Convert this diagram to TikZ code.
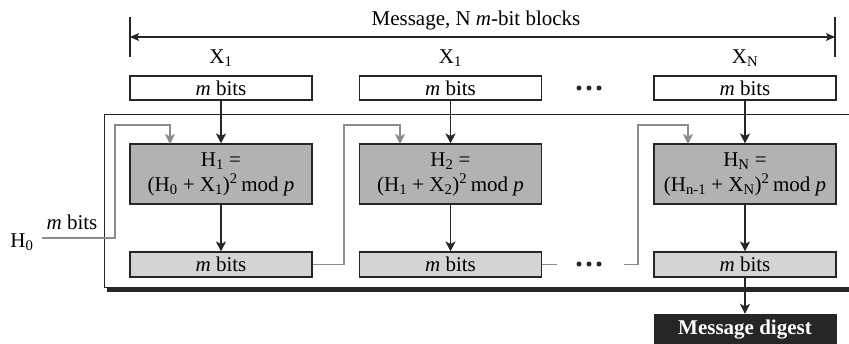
\documentclass[tikz,border=0pt]{standalone}
\usepackage{fontspec}
\setmainfont{Liberation Serif}
\usetikzlibrary{arrows.meta}
\definecolor{hfill}{RGB}{178,178,178}
\definecolor{bfill}{RGB}{212,212,212}
\definecolor{gline}{RGB}{140,140,140}
\definecolor{dline}{RGB}{38,38,38}
\begin{document}
\begin{tikzpicture}[x=1pt,y=-1pt,
  every node/.style={font=\fontsize{21}{25}\selectfont, inner sep=0pt},
  wbox/.style={draw=dline, line width=1.1pt, fill=white, minimum width=182pt, minimum height=24pt},
  hbox/.style={draw=dline, line width=1.1pt, fill=hfill, minimum width=182pt, minimum height=60pt, align=center},
  bbox/.style={draw=dline, line width=1.1pt, fill=bfill, minimum width=182pt, minimum height=25pt},
  dbox/.style={draw=dline, fill=dline, text=white, minimum width=182pt, minimum height=32pt,
    font=\fontsize{21}{25}\selectfont\bfseries},
  blk/.style={draw=dline, line width=1.4pt, -{Stealth[length=10pt,width=10pt,inset=2.5pt]}},
  gry/.style={draw=gline, line width=1.6pt, -{Stealth[length=10pt,width=10pt,inset=2.5pt]}},
  gln/.style={draw=gline, line width=1.6pt},
  dot/.style={circle, fill=dline, minimum size=5pt}]
\clip (0,0) rectangle (849,343);
% frame with shadow
\draw[dline, line width=5pt] (107,289.5) -- (860,289.5);
\draw[dline, line width=1pt] (860,114) -| (104,287) -- (860,287);
% message span
\coordinate (ml) at (130,37);
\coordinate (mr) at (835,37);
\draw[dline, line width=1.1pt] (130,17) -- (130,57);
\draw[dline, line width=1.1pt] (835,17) -- (835,57);
\draw[dline, line width=1.1pt, {Stealth[length=9pt,width=8pt,inset=2pt]}-{Stealth[length=9pt,width=8pt,inset=2pt]}] (ml) -- (mr);
\node[anchor=base] (msg) at (476,25) {Message, N \textit{m}-bit blocks};
% X labels
\node[anchor=base] (x1) at (221,63) {X\textsubscript{1}};
\node[anchor=base] (x2) at (450.5,63) {X\textsubscript{1}};
\node[anchor=base] (xn) at (745,63) {X\textsubscript{N}};
% top boxes
\node[wbox] (t1) at (221,88) {\textit{m} bits};
\node[wbox] (t2) at (450.5,88) {\textit{m} bits};
\node[wbox] (t3) at (745,88) {\textit{m} bits};
\node[dot] (td1) at (579,88) {};
\node[dot] (td2) at (589,88) {};
\node[dot] (td3) at (599,88) {};
% H boxes
\node[hbox] (h1) at (221,174) {H\textsubscript{1} =\\(H\textsubscript{0} + X\textsubscript{1})\textsuperscript{2}\,mod \textit{p}};
\node[hbox] (h2) at (450.5,174) {H\textsubscript{2} =\\(H\textsubscript{1} + X\textsubscript{2})\textsuperscript{2}\,mod \textit{p}};
\node[hbox] (h3) at (745,174) {H\textsubscript{N} =\\(H\textsubscript{n-1} + X\textsubscript{N})\textsuperscript{2}\,mod \textit{p}};
% bottom boxes
\node[bbox] (b1) at (221,264.5) {\textit{m} bits};
\node[bbox] (b2) at (450.5,264.5) {\textit{m} bits};
\node[bbox] (b3) at (745,264.5) {\textit{m} bits};
\node[dot] (bd1) at (579,264) {};
\node[dot] (bd2) at (589,264) {};
\node[dot] (bd3) at (599,264) {};
% digest
\node[dbox] (dg) at (745,330) {Message digest};
% H0
\node[anchor=base] (h0) at (22,247) {H\textsubscript{0}};
\node[anchor=base] (h0m) at (72,229) {\textit{m} bits};
\coordinate (h0s) at (42,238);
% black arrows
\draw[blk] (t1) -- (h1);
\draw[blk] (t2) -- (h2);
\draw[blk] (t3) -- (h3);
\draw[blk] (h1) -- (b1);
\draw[blk] (h2) -- (b2);
\draw[blk] (h3) -- (b3);
\draw[blk] (b3) -- (dg);
% gray feedback lines
\draw[gry] (h0s) -- (115,238) -- (115,125) -- (170,125) -- (170,144);
\draw[gry] (b1.east) -- (344,264.5) -- (344,125) -- (400,125) -- (400,144);
\coordinate (g2a) at (557,264.5);
\coordinate (g2b) at (624,264.5);
\draw[gln] (b2.east) -- (g2a);
\draw[gry] (g2b) -- (638,264.5) -- (638,125) -- (688,125) -- (688,144);
\end{tikzpicture}
\end{document}
